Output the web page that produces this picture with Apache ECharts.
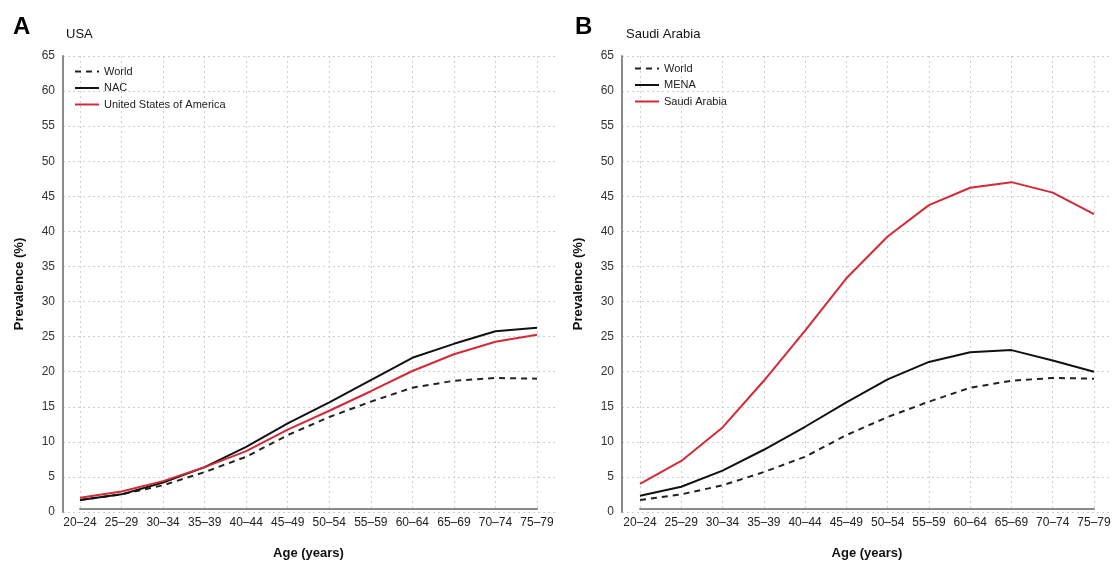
<!DOCTYPE html>
<html>
<head>
<meta charset="utf-8">
<script src="https://cdn.jsdelivr.net/npm/echarts@6/dist/echarts.min.js"></script>
<style>
  html, body { margin: 0; padding: 0; background: #fff; }
  #graph { width: 1114px; height: 565px; }
</style>
</head>
<body>
<div id="graph"></div>
<script>
// age groups on the x axis
const ageGroups = ['20\u201324', '25\u201329', '30\u201334', '35\u201339', '40\u201344', '45\u201349',
  '50\u201354', '55\u201359', '60\u201364', '65\u201369', '70\u201374', '75\u201379'];

// prevalence (%)
const world = [1.3, 2.1, 3.4, 5.3, 7.5, 10.6, 13.2, 15.4, 17.4, 18.4, 18.8, 18.7];
const nac = [1.3, 2.1, 3.8, 6.0, 8.9, 12.3, 15.3, 18.5, 21.7, 23.7, 25.5, 26.0];
const usa = [1.6, 2.5, 4.0, 6.0, 8.3, 11.4, 14.1, 16.9, 19.8, 22.2, 24.0, 25.0];
const mena = [1.9, 3.2, 5.5, 8.5, 11.8, 15.3, 18.6, 21.1, 22.5, 22.8, 21.3, 19.7];
const saudi = [3.6, 6.9, 11.7, 18.4, 25.6, 33.1, 39.1, 43.6, 46.1, 46.9, 45.4, 42.3];

const yTicks = { min: 0, max: 65, interval: 5 };

const RED = '#d42a36';
const BLACK = '#111';
const GRID_LINE = { show: true, lineStyle: { color: '#cfcfcf', type: [2, 3], width: 1 } };
const AXIS_LINE = { show: true, lineStyle: { color: '#8a8a8a', width: 2 } };
const FONT = 'Liberation Sans, Arial, sans-serif';

var myChart = echarts.init(document.getElementById('graph'));

function bgY(gridIndex) {
  return {
    gridIndex: gridIndex, type: 'value', min: yTicks.min, max: yTicks.max, interval: yTicks.interval,
    axisLine: AXIS_LINE, axisTick: { show: false },
    axisLabel: { color: '#333', fontSize: 12, fontFamily: FONT, margin: 8 },
    splitLine: GRID_LINE,
    name: 'Prevalence (%)', nameLocation: 'middle', nameGap: 37,
    nameTextStyle: { fontWeight: 'bold', fontSize: 13, color: '#111', fontFamily: FONT }
  };
}
function dataY(gridIndex) {
  return { gridIndex: gridIndex, type: 'value', min: yTicks.min, max: yTicks.max, show: false, splitLine: { show: false } };
}
function bgX(gridIndex) {
  return { gridIndex: gridIndex, type: 'value', show: false, splitLine: { show: false } };
}
function dataX(gridIndex) {
  return {
    gridIndex: gridIndex, type: 'category', data: ageGroups, boundaryGap: false,
    axisLine: AXIS_LINE, axisTick: { show: false },
    axisLabel: { color: '#222', fontSize: 12, fontFamily: FONT, margin: 8, interval: 0 },
    splitLine: GRID_LINE,
    name: 'Age (years)', nameLocation: 'middle', nameGap: 38,
    nameTextStyle: { fontWeight: 'bold', fontSize: 13, color: '#111', fontFamily: FONT }
  };
}
function line(name, data, axis, color, dashed) {
  return {
    name: name, type: 'line', data: data, xAxisIndex: axis, yAxisIndex: axis,
    symbol: 'none', smooth: false,
    lineStyle: { color: color, width: 2, type: dashed ? [6, 5] : 'solid' },
    itemStyle: { color: color }
  };
}
function legendBox(names, left, top) {
  return {
    data: names, orient: 'vertical', left: left, top: top, padding: 0,
    itemWidth: 24, itemHeight: 10, itemGap: 5.5, selectedMode: false,
    itemStyle: { opacity: 0 },
    textStyle: { fontSize: 11, color: '#222', fontFamily: FONT }
  };
}

const option = {
  animation: false,
  textStyle: { fontFamily: FONT },
  title: [
    { text: 'A', left: 8, top: 10, textStyle: { fontSize: 24, fontWeight: 'bold', color: '#000', fontFamily: FONT } },
    { text: 'USA', left: 61, top: 23, textStyle: { fontSize: 13, fontWeight: 'normal', color: '#111', fontFamily: FONT } },
    { text: 'B', left: 570, top: 10, textStyle: { fontSize: 24, fontWeight: 'bold', color: '#000', fontFamily: FONT } },
    { text: 'Saudi Arabia', left: 621, top: 23, textStyle: { fontSize: 13, fontWeight: 'normal', color: '#111', fontFamily: FONT } }
  ],
  legend: [
    legendBox(['World', 'NAC', 'United States of America'], 74, 66),
    legendBox(['World', 'MENA', 'Saudi Arabia'], 634, 63)
  ],
  grid: [
    { left: 63, top: 56, width: 495, height: 456 },
    { left: 80, top: 56, width: 457, height: 456 },
    { left: 622, top: 56, width: 490, height: 456 },
    { left: 640, top: 56, width: 454, height: 456 }
  ],
  xAxis: [bgX(0), dataX(1), bgX(2), dataX(3)],
  yAxis: [bgY(0), dataY(1), bgY(2), dataY(3)],
  series: [
    line('World', world, 1, '#222', true),
    line('NAC', nac, 1, BLACK, false),
    line('United States of America', usa, 1, RED, false),
    line('World', world, 3, '#222', true),
    line('MENA', mena, 3, BLACK, false),
    line('Saudi Arabia', saudi, 3, RED, false)
  ]
};

myChart.setOption(option);
</script>
</body>
</html>
